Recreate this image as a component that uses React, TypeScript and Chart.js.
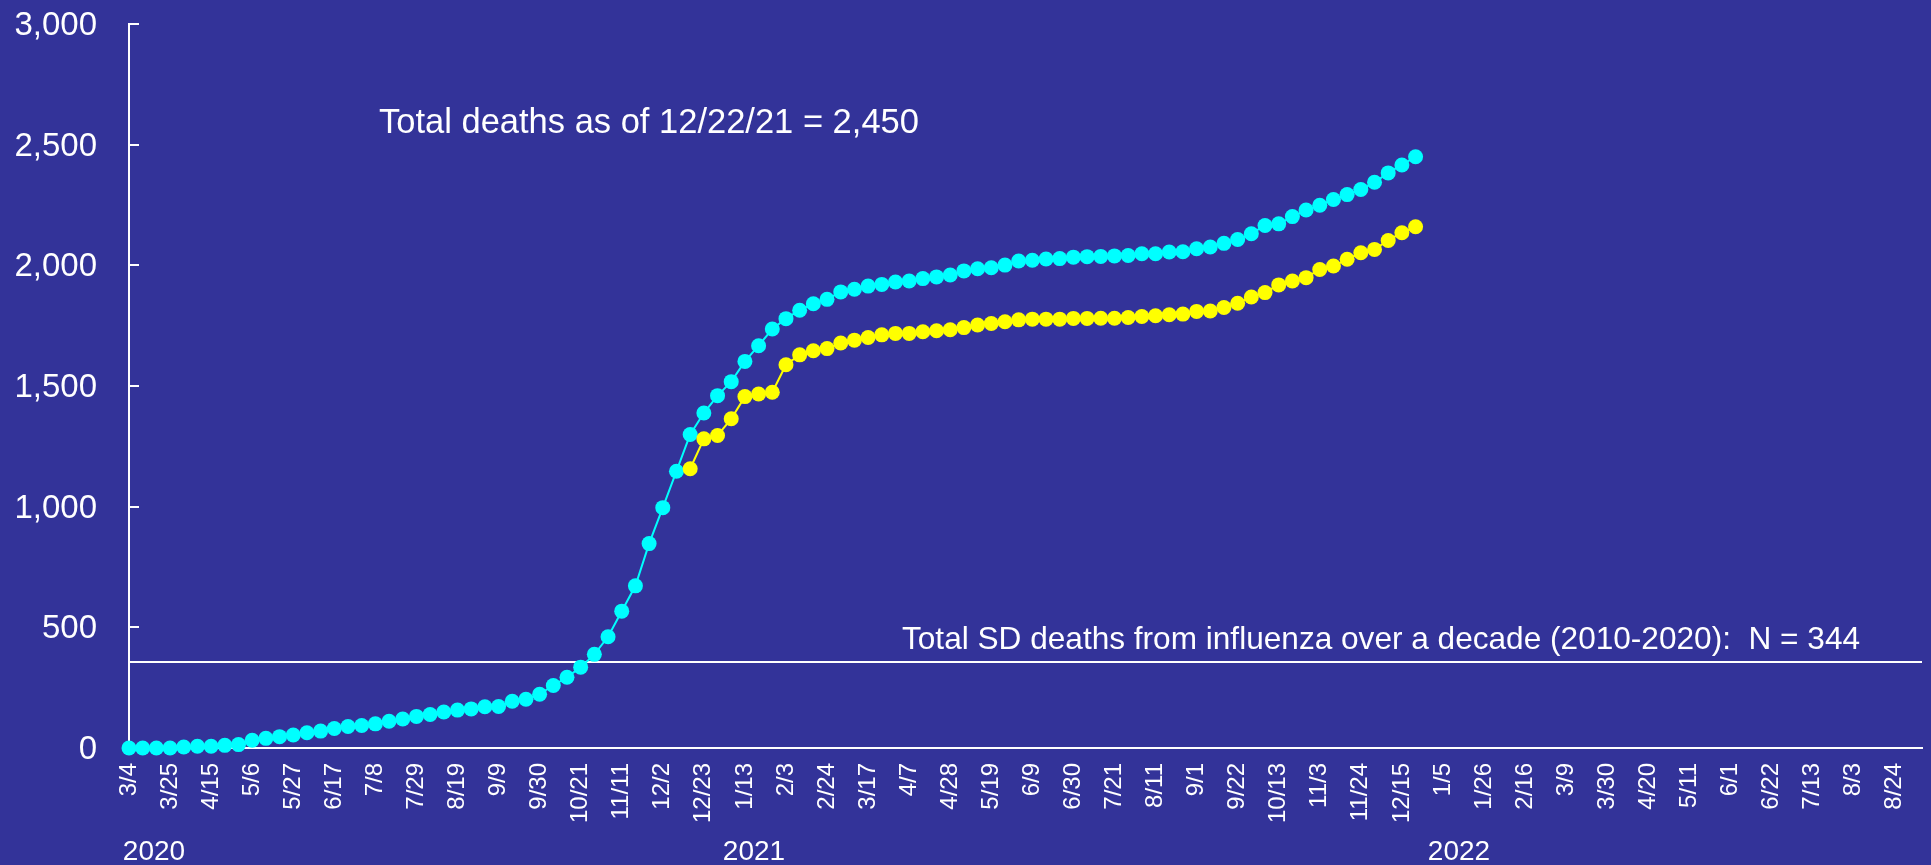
import React, { useEffect, useRef } from 'react';
import { Chart, registerables } from 'chart.js';

Chart.register(...registerables);

const BG = '#333399';
const FONT = '"Liberation Sans", Arial, Helvetica, sans-serif';

// Weekly categories, 3/4/2020 .. 9/7/2022
const weekLabels: string[] = [
  '3/4', '3/11', '3/18', '3/25', '4/1', '4/8', '4/15', '4/22', '4/29', '5/6',
  '5/13', '5/20', '5/27', '6/3', '6/10', '6/17', '6/24', '7/1', '7/8', '7/15',
  '7/22', '7/29', '8/5', '8/12', '8/19', '8/26', '9/2', '9/9', '9/16', '9/23',
  '9/30', '10/7', '10/14', '10/21', '10/28', '11/4', '11/11', '11/18', '11/25', '12/2',
  '12/9', '12/16', '12/23', '12/30',
  '1/6', '1/13', '1/20', '1/27', '2/3', '2/10', '2/17', '2/24', '3/3', '3/10',
  '3/17', '3/24', '3/31', '4/7', '4/14', '4/21', '4/28', '5/5', '5/12', '5/19',
  '5/26', '6/2', '6/9', '6/16', '6/23', '6/30', '7/7', '7/14', '7/21', '7/28',
  '8/4', '8/11', '8/18', '8/25', '9/1', '9/8', '9/15', '9/22', '9/29', '10/6',
  '10/13', '10/20', '10/27', '11/3', '11/10', '11/17', '11/24', '12/1', '12/8', '12/15',
  '12/22', '12/29',
  '1/5', '1/12', '1/19', '1/26', '2/2', '2/9', '2/16', '2/23', '3/2', '3/9',
  '3/16', '3/23', '3/30', '4/6', '4/13', '4/20', '4/27', '5/4', '5/11', '5/18',
  '5/25', '6/1', '6/8', '6/15', '6/22', '6/29', '7/6', '7/13', '7/20', '7/27',
  '8/3', '8/10', '8/17', '8/24', '8/31', '9/7',
];

// Cyan series: cumulative deaths, 3/4/2020 .. 12/22/2021
const cyanSeries: (number | null)[] = [
  0, 0, 0, 0, 4, 7, 7, 11, 14, 32,
  40, 47, 54, 63, 70, 81, 89, 93, 100, 111,
  120, 131, 139, 149, 157, 162, 171, 172, 194, 202,
  223, 259, 293, 335, 388, 461, 567, 672, 847, 996,
  1147, 1299, 1388, 1460, 1518, 1602, 1667, 1736, 1779, 1814,
  1841, 1859, 1890, 1901, 1914, 1921, 1931, 1935, 1945, 1952,
  1960, 1977, 1986, 1990, 2001, 2018, 2021, 2026, 2028, 2034,
  2036, 2037, 2039, 2041, 2048, 2048, 2055, 2056, 2069, 2076,
  2091, 2107, 2131, 2165, 2172, 2202, 2229, 2249, 2273, 2293,
  2314, 2344, 2383, 2416, 2450,
];

// Yellow series: starts 12/16/2020
const yellowSeries: (number | null)[] = [
  null, null, null, null, null, null, null, null, null, null,
  null, null, null, null, null, null, null, null, null, null,
  null, null, null, null, null, null, null, null, null, null,
  null, null, null, null, null, null, null, null, null, null,
  null,
  1157, 1281, 1295, 1364, 1456, 1467, 1474, 1588, 1629,
  1646, 1655, 1678, 1690, 1701, 1712, 1718, 1718, 1725, 1729,
  1733, 1742, 1753, 1759, 1766, 1774, 1777, 1777, 1777, 1780,
  1780, 1781, 1781, 1784, 1788, 1791, 1795, 1798, 1809, 1811,
  1825, 1843, 1869, 1887, 1919, 1935, 1949, 1983, 1997, 2025,
  2052, 2066, 2103, 2135, 2160,
];

const yTickValues = [0, 500, 1000, 1500, 2000, 2500, 3000];
const fluDecadeLineValue = 357;
const totalText = 'Total deaths as of 12/22/21 = 2,450';
const fluText = 'Total SD deaths from influenza over a decade (2010-2020):  N = 344';
const yearLabels = ['2020', '2021', '2022'];

const decorPlugin = {
  id: 'decor',
  beforeDraw(chart: any) {
    const { ctx, width, height } = chart;
    ctx.save();
    ctx.fillStyle = BG;
    ctx.fillRect(0, 0, width, height);
    ctx.restore();
  },
  beforeDatasetsDraw(chart: any) {
    const { ctx, chartArea, scales } = chart;
    const y = scales.y;
    ctx.save();
    ctx.strokeStyle = '#ffffff';
    ctx.lineWidth = 2;
    const ly = Math.round(y.getPixelForValue(fluDecadeLineValue));
    ctx.beginPath();
    ctx.moveTo(chartArea.left, ly);
    ctx.lineTo(chartArea.right, ly);
    ctx.stroke();
    yTickValues.forEach((v) => {
      const py = Math.round(y.getPixelForValue(v));
      ctx.beginPath();
      ctx.moveTo(chartArea.left, py);
      ctx.lineTo(chartArea.left + 10, py);
      ctx.stroke();
    });
    ctx.restore();
  },
  afterDraw(chart: any) {
    const { ctx } = chart;
    ctx.save();
    ctx.fillStyle = '#ffffff';
    ctx.textBaseline = 'alphabetic';
    ctx.textAlign = 'left';
    ctx.font = `34.5px ${FONT}`;
    ctx.fillText(totalText, 379, 133);
    ctx.font = `31.6px ${FONT}`;
    ctx.fillText(fluText, 902, 649);
    ctx.font = `28px ${FONT}`;
    ctx.textAlign = 'center';
    const yearX = [154, 754, 1459];
    yearLabels.forEach((t, i) => ctx.fillText(t, yearX[i], 860));
    ctx.restore();
  },
};

export default function App() {
  const ref = useRef<HTMLCanvasElement>(null);
  useEffect(() => {
    document.body.style.margin = '0';
    document.body.style.background = BG;
    const chart = new Chart(ref.current as HTMLCanvasElement, {
      type: 'line',
      data: {
        labels: weekLabels,
        datasets: [
          {
            label: 'Yellow',
            data: yellowSeries,
            order: 0,
            borderColor: '#ffff00',
            backgroundColor: '#ffff00',
            borderWidth: 2,
            pointRadius: 7.5,
            pointBorderWidth: 0,
            pointBackgroundColor: '#ffff00',
            tension: 0,
            spanGaps: false,
            clip: false as any,
          },
          {
            label: 'Cyan',
            data: cyanSeries,
            order: 1,
            borderColor: '#00ffff',
            backgroundColor: '#00ffff',
            borderWidth: 2,
            pointRadius: 7.5,
            pointBorderWidth: 0,
            pointBackgroundColor: '#00ffff',
            tension: 0,
            clip: false as any,
          },
        ],
      },
      options: {
        responsive: false,
        animation: false,
        events: [],
        layout: { padding: { top: 24, right: 9, left: 0, bottom: 0 } },
        plugins: {
          legend: { display: false },
          tooltip: { enabled: false },
        },
        scales: {
          x: {
            type: 'category',
            offset: false,
            grid: { display: false, drawTicks: false },
            border: { display: true, color: '#ffffff', width: 2 },
            ticks: {
              autoSkip: false,
              maxRotation: 90,
              minRotation: 90,
              padding: 15,
              color: '#ffffff',
              font: { size: 24, family: FONT },
              callback: (_v: any, i: number) => (i % 3 === 0 ? weekLabels[i] : ''),
            },
            afterFit: (s: any) => {
              s.height = 117;
              s.paddingLeft = 0;
              s.paddingRight = 0;
              s.paddingTop = 0;
              s.paddingBottom = 0;
            },
          },
          y: {
            min: 0,
            max: 3000,
            grid: { display: false, drawTicks: false },
            border: { display: true, color: '#ffffff', width: 2 },
            ticks: {
              stepSize: 500,
              padding: 32,
              labelOffset: 2,
              color: '#ffffff',
              font: { size: 33, family: FONT },
              callback: (v: any) => Number(v).toLocaleString('en-US'),
            },
            afterFit: (s: any) => {
              s.width = 129;
              s.paddingLeft = 0;
              s.paddingRight = 0;
              s.paddingTop = 0;
              s.paddingBottom = 0;
            },
          },
        },
      },
      plugins: [decorPlugin],
    });
    return () => chart.destroy();
  }, []);
  return (
    <div style={{ position: 'fixed', left: 0, top: 0, width: 1931, height: 865, background: BG }}>
      <canvas ref={ref} width={1931} height={865} style={{ display: 'block' }} />
    </div>
  );
}
